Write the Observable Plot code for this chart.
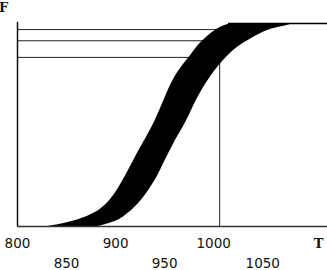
<!DOCTYPE html>
<html>
<head>
<meta charset="utf-8">
<script src="https://cdn.jsdelivr.net/npm/d3@7"></script>
<script src="https://cdn.jsdelivr.net/npm/@observablehq/plot@0.6"></script>
<style>
  html, body { margin: 0; padding: 0; background: #fff; }
</style>
</head>
<body>
<div id="chart"></div>
<script>
// Cumulative probability levels and the two bounding curves (T values)
const F      = [0, 0.01, 0.03, 0.05, 0.08, 0.13, 0.18, 0.23, 0.28, 0.33, 0.38, 0.43, 0.52, 0.62, 0.72, 0.78, 0.84, 0.89, 0.94, 0.975, 0.99, 1.0];
const leftT  = [830, 843, 860, 872, 884.5, 895, 902, 908, 913.5, 919, 924.5, 930.5, 940.7, 949, 958, 966, 976.5, 983.5, 994, 1004, 1010, 1020];
const rightT = [882, 890, 903, 909, 917, 927, 934, 941, 946, 951, 956.5, 961.5, 973, 981.5, 994, 1003, 1014, 1025.5, 1043, 1058, 1075.5, 1082];

// Reference lines
const hLevels = [0.97, 0.915, 0.833];
const hEnds   = [1010, 1000, 985];
const vLineT  = 1006;
const vLineTop = 0.82;

// Tick labels (staggered)
const ticksRow1 = [800, 900, 1000];
const ticksRow2 = [850, 950, 1050];

const band = F.map((f, i) => ({F: f, x1: leftT[i], x2: rightT[i]}));
const hLines = hLevels.map((f, i) => ({F: f, x2: hEnds[i]}));

const chart = Plot.plot({
  width: 327,
  height: 270,
  marginLeft: 17,
  marginRight: 0,
  marginTop: 23,
  marginBottom: 44,
  x: {domain: [800, 1116], axis: null},
  y: {domain: [0, 1], axis: null},
  style: {background: "#fff", overflow: "visible"},
  marks: [
    Plot.ruleY(hLines, {y: "F", x1: 800, x2: "x2", stroke: "#222", strokeWidth: 1}),
    Plot.ruleX([vLineT], {x: d => d, y1: 0, y2: vLineTop, stroke: "#444", strokeWidth: 1.2}),
    Plot.areaX(band, {y: "F", x1: "x1", x2: "x2", fill: "#000", curve: "basis"}),
    Plot.ruleY([1], {x1: 1015, x2: 1116, stroke: "#000", strokeWidth: 1.5}),
    Plot.ruleX([800], {y1: 0, y2: 1.006, stroke: "#111", strokeWidth: 1.5}),
    Plot.ruleY([0], {x1: 800, x2: 1116, stroke: "#333", strokeWidth: 1.5}),
    Plot.text(ticksRow1, {x: d => d, y: 0, text: d => String(d), dy: 17, lineAnchor: "middle",
      fontFamily: "DejaVu Sans", fontSize: 13.5, fill: "#111"}),
    Plot.text(ticksRow2, {x: d => d, y: 0, text: d => String(d), dy: 37, lineAnchor: "middle",
      fontFamily: "DejaVu Sans", fontSize: 13.5, fill: "#111"}),
    Plot.text(["T"], {frameAnchor: "bottom-right", dx: -4, dy: 17, lineAnchor: "middle", textAnchor: "end",
      fontFamily: "DejaVu Serif", fontWeight: "bold", fontSize: 13, fill: "#111"}),
    Plot.text(["F"], {frameAnchor: "top-left", dx: -14, dy: -16, lineAnchor: "middle", textAnchor: "middle",
      fontFamily: "DejaVu Serif", fontWeight: "bold", fontSize: 13, fill: "#111"})
  ]
});
document.getElementById("chart").appendChild(chart);
</script>
</body>
</html>
